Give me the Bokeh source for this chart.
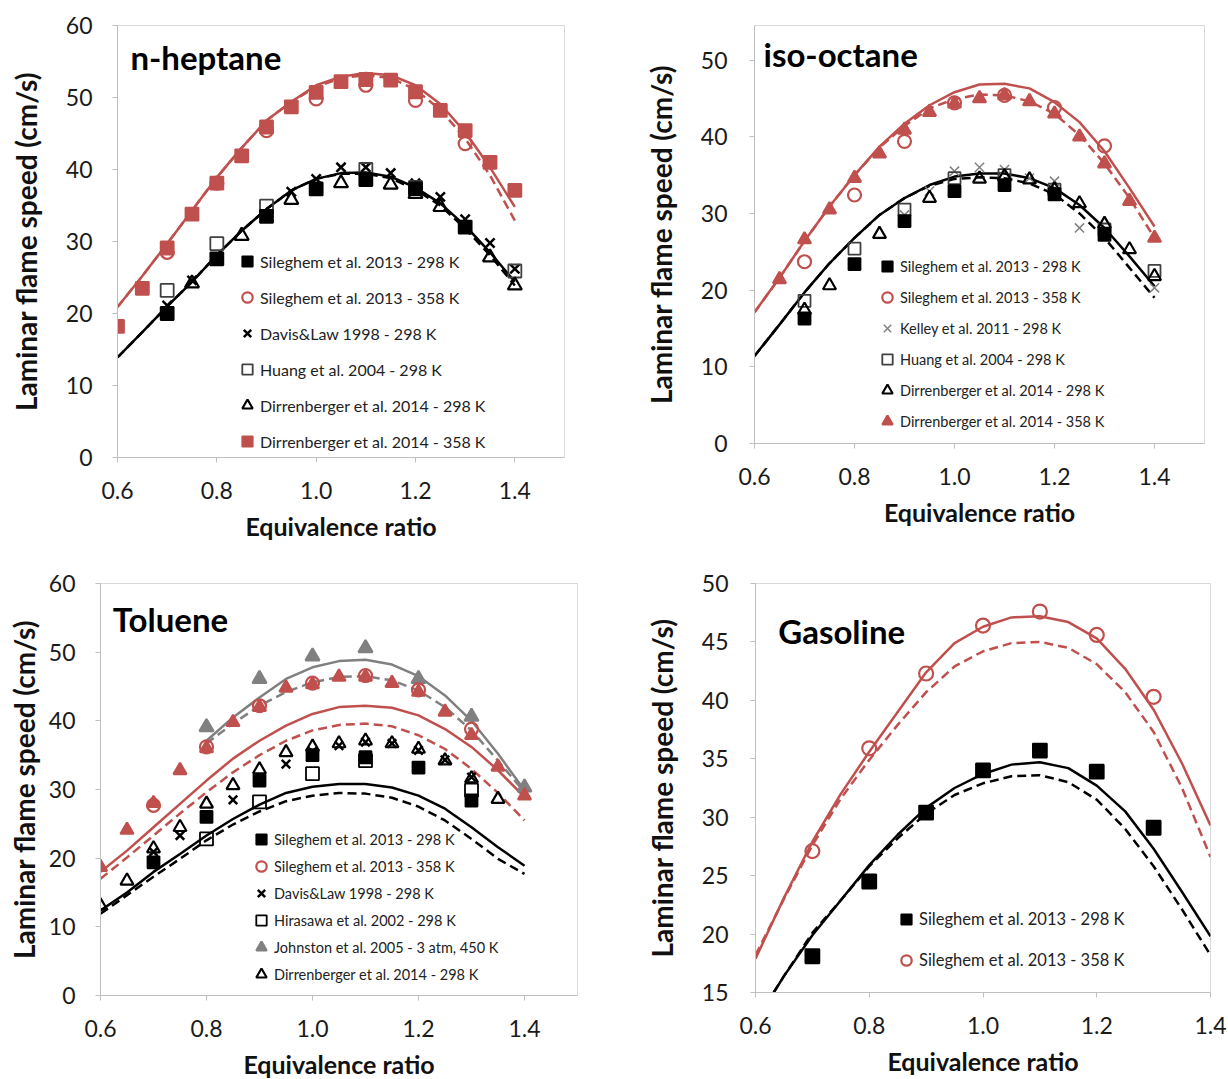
from bokeh.plotting import figure
from bokeh.layouts import column, row
from bokeh.models import Range1d, FixedTicker, Legend, LegendItem, Label, NumeralTickFormatter
from bokeh.embed import file_html
from bokeh.resources import INLINE

FONT = "Lato"
RED = "#c0504d"
BLACK = "#000000"
GRAY = "#808080"
DASH = "9 5"

PHI_CURVE = [0.6, 0.65, 0.7, 0.75, 0.8, 0.85, 0.9, 0.95, 1.0, 1.05, 1.1, 1.15, 1.2, 1.25, 1.3, 1.35, 1.4]
PHI_TENTHS = [0.7, 0.8, 0.9, 1.0, 1.1, 1.2, 1.3]
X_TICKS = [0.6, 0.8, 1.0, 1.2, 1.4]

# ---------------- n-heptane ----------------
hep_298_solid = [13.9, 17.4, 21.0, 24.4, 28.1, 31.5, 34.5, 37.1, 38.7, 39.5, 39.6, 39.0, 37.5, 35.3, 32.2, 28.5, 24.4]
hep_298_dash = [13.9, 17.4, 21.0, 24.4, 28.1, 31.5, 34.5, 37.1, 38.7, 39.4, 39.4, 38.8, 37.2, 35.0, 31.8, 28.1, 23.9]
hep_358_solid = [20.9, 25.2, 29.7, 34.3, 38.9, 43.0, 46.8, 49.4, 51.7, 52.9, 53.4, 53.1, 51.7, 49.1, 45.2, 40.3, 34.8]
hep_358_dash = [20.9, 25.2, 29.7, 34.3, 38.9, 43.0, 46.8, 49.4, 51.5, 52.7, 53.1, 52.7, 51.1, 48.3, 44.3, 39.2, 32.9]
hep_sil298 = [20.0, 27.6, 33.5, 37.3, 38.6, 37.3, 32.0]
hep_sil358 = [28.5, 38.1, 45.4, 49.8, 51.7, 49.6, 43.6]
hep_davis_phi = [0.7, 0.75, 0.95, 1.0, 1.05, 1.1, 1.15, 1.2, 1.25, 1.3, 1.35, 1.4]
hep_davis = [21.1, 24.6, 36.9, 38.7, 40.3, 40.3, 39.5, 38.1, 36.2, 33.1, 29.8, 26.2]
hep_huang_phi = [0.7, 0.8, 0.9, 1.1, 1.2, 1.4]
hep_huang = [23.2, 29.7, 34.9, 40.0, 37.5, 25.9]
hep_dir298_phi = [0.75, 0.85, 0.95, 1.05, 1.15, 1.2, 1.25, 1.35, 1.4]
hep_dir298 = [24.2, 30.8, 35.8, 38.1, 37.9, 36.6, 34.8, 27.8, 23.9]
hep_dir358_phi = [0.6, 0.65, 0.7, 0.75, 0.8, 0.85, 0.9, 0.95, 1.0, 1.05, 1.1, 1.15, 1.2, 1.25, 1.3, 1.35, 1.4]
hep_dir358 = [18.2, 23.5, 29.1, 33.8, 38.1, 41.9, 45.9, 48.7, 50.7, 52.2, 52.5, 52.4, 50.8, 48.2, 45.4, 41.0, 37.1]

# ---------------- iso-octane ----------------
iso_298_solid = [11.4, 15.5, 19.7, 23.5, 26.8, 29.8, 32.0, 33.7, 34.8, 35.2, 35.2, 34.6, 33.3, 31.1, 28.1, 24.4, 20.5]
iso_298_dash = [11.4, 15.5, 19.7, 23.5, 26.8, 29.8, 32.0, 33.6, 34.5, 34.7, 34.6, 33.9, 32.5, 30.0, 26.8, 22.9, 19.0]
iso_358_solid = [17.1, 21.6, 26.4, 30.9, 35.0, 38.7, 41.7, 44.1, 45.8, 46.8, 46.9, 46.3, 44.5, 41.9, 38.1, 33.3, 28.3]
iso_358_dash = [17.1, 21.6, 26.4, 30.9, 35.0, 38.6, 41.4, 43.7, 44.9, 45.5, 45.4, 44.6, 43.0, 40.2, 36.5, 32.0, 26.8]
iso_sil298 = [16.3, 23.4, 29.0, 32.9, 33.7, 32.5, 27.2]
iso_sil358 = [23.7, 32.4, 39.4, 44.4, 45.4, 43.8, 38.8]
iso_kelley_phi = [0.9, 0.95, 1.0, 1.05, 1.1, 1.15, 1.2, 1.25, 1.3, 1.4]
iso_kelley = [29.8, 32.9, 35.5, 36.0, 35.7, 34.6, 34.2, 28.1, 27.3, 20.3]
iso_huang_phi = [0.7, 0.8, 0.9, 1.0, 1.1, 1.2, 1.3, 1.4]
iso_huang = [18.6, 25.4, 30.5, 34.6, 35.0, 33.1, 27.9, 22.5]
iso_dir298_phi = [0.7, 0.75, 0.85, 0.95, 1.05, 1.1, 1.15, 1.2, 1.25, 1.3, 1.35, 1.4]
iso_dir298 = [17.4, 20.6, 27.3, 32.0, 34.5, 34.8, 34.4, 33.1, 31.3, 28.6, 25.3, 21.8]
iso_dir358_phi = [0.65, 0.7, 0.75, 0.8, 0.85, 0.9, 0.95, 1.0, 1.05, 1.1, 1.15, 1.2, 1.25, 1.3, 1.35, 1.4]
iso_dir358 = [21.4, 26.6, 30.5, 34.6, 37.8, 40.9, 43.2, 44.3, 45.0, 45.4, 44.6, 43.0, 40.0, 36.5, 31.6, 26.8]

# ---------------- Toluene ----------------
PHI_JOH = [0.8, 0.85, 0.9, 0.95, 1.0, 1.05, 1.1, 1.15, 1.2, 1.25, 1.3, 1.35, 1.4]
tol_joh_solid = [37.1, 40.5, 43.4, 46.1, 47.8, 48.7, 48.9, 48.2, 46.5, 43.7, 40.0, 35.2, 29.9]
tol_joh_dash = [36.7, 39.6, 42.2, 44.2, 45.6, 46.4, 46.5, 45.9, 44.4, 42.0, 38.6, 34.2, 29.6]
tol_358_solid = [18.0, 21.1, 24.5, 27.9, 31.3, 34.5, 37.1, 39.3, 41.0, 42.0, 42.2, 41.9, 40.8, 38.8, 36.2, 32.8, 28.9]
tol_358_dash = [17.0, 20.1, 23.3, 26.5, 29.6, 32.5, 35.0, 37.1, 38.6, 39.4, 39.6, 39.2, 37.9, 35.9, 33.0, 29.5, 25.5]
tol_298_solid = [12.4, 15.0, 18.0, 20.6, 23.3, 25.7, 27.8, 29.5, 30.4, 30.8, 30.8, 30.3, 29.1, 27.2, 24.5, 21.6, 18.9]
tol_298_dash = [11.9, 14.6, 17.3, 19.9, 22.6, 24.9, 26.8, 28.3, 29.1, 29.5, 29.4, 28.8, 27.5, 25.5, 22.8, 19.9, 17.7]
tol_joh_phi = [0.8, 0.9, 1.0, 1.1, 1.2, 1.3, 1.4]
tol_joh = [39.1, 46.1, 49.4, 50.6, 46.1, 40.6, 30.3]
tol_sil358 = [27.7, 36.2, 42.2, 45.5, 46.6, 44.5, 38.8]
tol_dir358_phi = [0.6, 0.65, 0.7, 0.75, 0.8, 0.85, 0.9, 0.95, 1.0, 1.05, 1.1, 1.15, 1.2, 1.25, 1.3, 1.35, 1.4]
tol_dir358 = [18.7, 24.1, 28.0, 32.8, 36.0, 39.8, 42.0, 44.8, 45.3, 46.4, 46.4, 45.5, 44.2, 41.3, 37.9, 33.3, 29.1]
tol_sil298 = [19.4, 26.0, 31.3, 35.0, 34.7, 33.2, 28.4]
tol_davis_phi = [0.7, 0.75, 0.85, 0.95, 1.0, 1.05, 1.1, 1.15, 1.2, 1.25, 1.3]
tol_davis = [20.9, 23.3, 28.5, 33.7, 35.5, 36.4, 36.9, 36.7, 35.7, 34.3, 31.8]
tol_hira_phi = [0.8, 0.9, 1.0, 1.1, 1.3]
tol_hira = [22.8, 28.2, 32.3, 34.2, 29.9]
tol_dir298_phi = [0.6, 0.65, 0.7, 0.75, 0.8, 0.85, 0.9, 0.95, 1.0, 1.05, 1.1, 1.15, 1.2, 1.25, 1.3, 1.35]
tol_dir298 = [13.1, 16.7, 21.4, 24.5, 27.9, 30.6, 32.9, 35.4, 36.2, 36.7, 37.1, 36.7, 35.9, 34.2, 31.6, 28.6]

# ---------------- Gasoline ----------------
PHI_GAS298 = [0.632, 0.65, 0.7, 0.75, 0.8, 0.85, 0.9, 0.95, 1.0, 1.05, 1.1, 1.15, 1.2, 1.25, 1.3, 1.35, 1.4]
gas_298_solid = [15.0, 16.4, 19.9, 22.9, 25.9, 28.5, 30.8, 32.5, 33.7, 34.5, 34.7, 34.2, 32.7, 30.5, 27.3, 23.6, 19.8]
gas_298_dash = [15.0, 16.4, 20.1, 22.9, 25.8, 28.2, 30.3, 31.9, 32.9, 33.5, 33.6, 33.0, 31.5, 29.0, 25.8, 22.1, 18.2]
gas_358_solid = [17.9, 23.1, 27.9, 32.0, 35.6, 39.0, 42.4, 44.9, 46.3, 47.1, 47.2, 46.7, 45.3, 42.7, 39.2, 34.6, 29.3]
gas_358_dash = [18.2, 23.0, 27.6, 31.6, 34.9, 37.9, 40.7, 42.9, 44.2, 44.9, 45.0, 44.5, 43.1, 40.7, 37.3, 32.5, 26.6]
gas_sil298 = [18.1, 24.5, 30.4, 34.0, 35.7, 33.9, 29.1]
gas_sil358 = [27.1, 35.9, 42.3, 46.4, 47.6, 45.6, 40.3]

LEG_SIL298 = "Sileghem et al. 2013 - 298 K"
LEG_SIL358 = "Sileghem et al. 2013 - 358 K"
LEG_DAVIS = "Davis&Law 1998 - 298 K"
LEG_HUANG = "Huang et al. 2004 - 298 K"
LEG_DIR298 = "Dirrenberger et al. 2014 - 298 K"
LEG_DIR358 = "Dirrenberger et al. 2014 - 358 K"
LEG_KELLEY = "Kelley et al. 2011 - 298 K"
LEG_HIRA = "Hirasawa et al. 2002 - 298 K"
LEG_JOH = "Johnston et al. 2005 - 3 atm, 450 K"


def make_fig(xr, yr, yticks, fw, fh, bl, br, bt, bb, ylab_standoff, ytitle_standoff):
    p = figure(output_backend="svg", toolbar_location=None,
               frame_width=fw, frame_height=fh,
               min_border_left=bl, min_border_right=br, min_border_top=bt, min_border_bottom=bb,
               x_range=Range1d(*xr), y_range=Range1d(*yr))
    p.background_fill_color = "white"
    p.border_fill_color = "white"
    p.outline_line_color = "#d9d9d9"
    p.grid.visible = False
    for ax in (p.xaxis[0], p.yaxis[0]):
        ax.axis_line_color = "#bfbfbf"
        ax.major_tick_line_color = "#bfbfbf"
        ax.major_tick_out = 5
        ax.major_tick_in = 0
        ax.minor_tick_line_color = None
        ax.major_label_text_font = FONT
        ax.major_label_text_font_size = "23px"
        ax.major_label_text_color = "#1a1a1a"
        ax.axis_label_text_font = FONT
        ax.axis_label_text_font_style = "bold"
        ax.axis_label_text_color = "#111111"
    p.xaxis.axis_label_text_font_size = "25px"
    p.yaxis.axis_label_text_font_size = "28px"
    p.xaxis.ticker = FixedTicker(ticks=X_TICKS)
    p.xaxis.formatter = NumeralTickFormatter(format="0.0")
    p.yaxis.ticker = FixedTicker(ticks=yticks)
    p.xaxis.axis_label = "Equivalence ratio"
    p.yaxis.axis_label = "Laminar flame speed (cm/s)"
    p.xaxis.major_label_standoff = 19
    p.xaxis.axis_label_standoff = 9
    p.yaxis.major_label_standoff = ylab_standoff
    p.yaxis.axis_label_standoff = ytitle_standoff
    return p


def add_title(p, text, x, y):
    p.add_layout(Label(x=x, y=y, text=text, text_font=FONT, text_font_style="bold",
                       text_font_size="33px", text_baseline="middle", text_color="#000000"))


def add_legend(p, items, loc, glyph, spacing, fs):
    lg = Legend(items=[LegendItem(label=t, renderers=[r]) for t, r in items], location=loc,
                background_fill_alpha=0, border_line_alpha=0, padding=0, margin=0,
                spacing=spacing, glyph_height=glyph, glyph_width=26, label_height=glyph,
                label_standoff=-1, label_text_font=FONT, label_text_font_size=fs,
                label_text_color="#222222", label_text_baseline="middle")
    p.add_layout(lg)


def sq(p, x, y, size, filled=True, color=BLACK):
    return p.scatter(x, y, marker="square", size=size, line_color=color, line_width=1.8,
                     fill_color=color if filled else None)


def circ(p, x, y, size, color=RED):
    return p.scatter(x, y, marker="circle", size=size, line_color=color, line_width=2.2, fill_color=None)


def tri(p, x, y, size, filled=False, color=BLACK):
    return p.scatter(x, y, marker="triangle", size=size, line_color=color, line_width=2.2,
                     fill_color=color if filled else None)


def xm(p, x, y, size, color=BLACK, lw=2.5):
    return p.scatter(x, y, marker="x", size=size, line_color=color, line_width=lw)


# ---- Panel 1: n-heptane
p1 = make_fig((0.6, 1.5), (0, 60), [0, 10, 20, 30, 40, 50, 60], 447, 432, 117, 76, 25, 93, 20, 20)
p1.line(PHI_CURVE, hep_358_dash, line_color=RED, line_width=2.5, line_dash=DASH)
p1.line(PHI_CURVE, hep_358_solid, line_color=RED, line_width=2.5)
p1.line(PHI_CURVE, hep_298_dash, line_color=BLACK, line_width=2.5, line_dash=DASH)
p1.line(PHI_CURVE, hep_298_solid, line_color=BLACK, line_width=2.5)
r_d358 = sq(p1, hep_dir358_phi, hep_dir358, 13, True, RED)
r_dav = xm(p1, hep_davis_phi, hep_davis, 13)
r_hua = sq(p1, hep_huang_phi, hep_huang, 13, False, "#404040")
r_d298 = tri(p1, hep_dir298_phi, hep_dir298, 14)
r_s298 = sq(p1, PHI_TENTHS, hep_sil298, 13, True, BLACK)
r_s358 = circ(p1, PHI_TENTHS, hep_sil358, 13)
add_title(p1, "n-heptane", 0.626, 55.6)
add_legend(p1, [(LEG_SIL298, r_s298), (LEG_SIL358, r_s358), (LEG_DAVIS, r_dav),
                (LEG_HUANG, r_hua), (LEG_DIR298, r_d298), (LEG_DIR358, r_d358)],
           (117, 1), 30, 6, "16px")

# ---- Panel 2: iso-octane
p2 = make_fig((0.6, 1.5), (0, 54.5), [0, 10, 20, 30, 40, 50], 450, 418, 114, 24, 25, 107, 22, 20)
p2.line(PHI_CURVE, iso_358_dash, line_color=RED, line_width=2.5, line_dash=DASH)
p2.line(PHI_CURVE, iso_358_solid, line_color=RED, line_width=2.5)
p2.line(PHI_CURVE, iso_298_dash, line_color=BLACK, line_width=2.5, line_dash=DASH)
p2.line(PHI_CURVE, iso_298_solid, line_color=BLACK, line_width=2.5)
r_d358 = tri(p2, iso_dir358_phi, iso_dir358, 13, True, RED)
r_kel = xm(p2, iso_kelley_phi, iso_kelley, 13, "#808080", 1.5)
r_hua = sq(p2, iso_huang_phi, iso_huang, 12, False, "#404040")
r_d298 = tri(p2, iso_dir298_phi, iso_dir298, 13)
r_s298 = sq(p2, PHI_TENTHS, iso_sil298, 12, True, BLACK)
r_s358 = circ(p2, PHI_TENTHS, iso_sil358, 13)
add_title(p2, "iso-octane", 0.618, 50.8)
add_legend(p2, [(LEG_SIL298, r_s298), (LEG_SIL358, r_s358), (LEG_KELLEY, r_kel),
                (LEG_HUANG, r_hua), (LEG_DIR298, r_d298), (LEG_DIR358, r_d358)],
           (120, 8), 28, 3, "14.5px")

# ---- Panel 3: Toluene
p3 = make_fig((0.6, 1.5), (0, 60), [0, 10, 20, 30, 40, 50, 60], 477, 412, 100, 63, 33, 84, 20, 5)
p3.line(PHI_JOH, tol_joh_dash, line_color=GRAY, line_width=2.5, line_dash=DASH)
p3.line(PHI_JOH, tol_joh_solid, line_color=GRAY, line_width=2.5)
p3.line(PHI_CURVE, tol_358_dash, line_color=RED, line_width=2.5, line_dash=DASH)
p3.line(PHI_CURVE, tol_358_solid, line_color=RED, line_width=2.5)
p3.line(PHI_CURVE, tol_298_dash, line_color=BLACK, line_width=2.5, line_dash=DASH)
p3.line(PHI_CURVE, tol_298_solid, line_color=BLACK, line_width=2.5)
r_joh = tri(p3, tol_joh_phi, tol_joh, 14, True, GRAY)
tri(p3, tol_dir358_phi, tol_dir358, 13, True, RED)
r_s298 = sq(p3, PHI_TENTHS, tol_sil298, 12, True, BLACK)
r_hir = sq(p3, tol_hira_phi, tol_hira, 13, False, BLACK)
r_dav = xm(p3, tol_davis_phi, tol_davis, 12)
r_d298 = tri(p3, tol_dir298_phi, tol_dir298, 13)
r_s358 = circ(p3, PHI_TENTHS, tol_sil358, 13)
add_title(p3, "Toluene", 0.623, 54.9)
add_legend(p3, [(LEG_SIL298, r_s298), (LEG_SIL358, r_s358), (LEG_DAVIS, r_dav),
                (LEG_HIRA, r_hir), (LEG_JOH, r_joh), (LEG_DIR298, r_d298)],
           (148, 8), 26, 1, "14.5px")

# ---- Panel 4: Gasoline
p4 = make_fig((0.6, 1.4), (15, 50), [15, 20, 25, 30, 35, 40, 45, 50], 455, 409, 115, 18, 33, 87, 22, 20)
p4.line(PHI_CURVE, gas_358_dash, line_color=RED, line_width=2.5, line_dash=DASH)
p4.line(PHI_CURVE, gas_358_solid, line_color=RED, line_width=2.5)
p4.line(PHI_GAS298, gas_298_dash, line_color=BLACK, line_width=2.5, line_dash=DASH)
p4.line(PHI_GAS298, gas_298_solid, line_color=BLACK, line_width=2.5)
r_s298 = sq(p4, PHI_TENTHS, gas_sil298, 14, True, BLACK)
r_s358 = circ(p4, PHI_TENTHS, gas_sil358, 14)
add_title(p4, "Gasoline", 0.64, 45.9)
add_legend(p4, [(LEG_SIL298, r_s298), (LEG_SIL358, r_s358)], (138, 17), 30, 11, "16.5px")

layout = column(row(p1, p2), row(p3, p4))
open("out.html", "w").write(file_html(layout, INLINE))
